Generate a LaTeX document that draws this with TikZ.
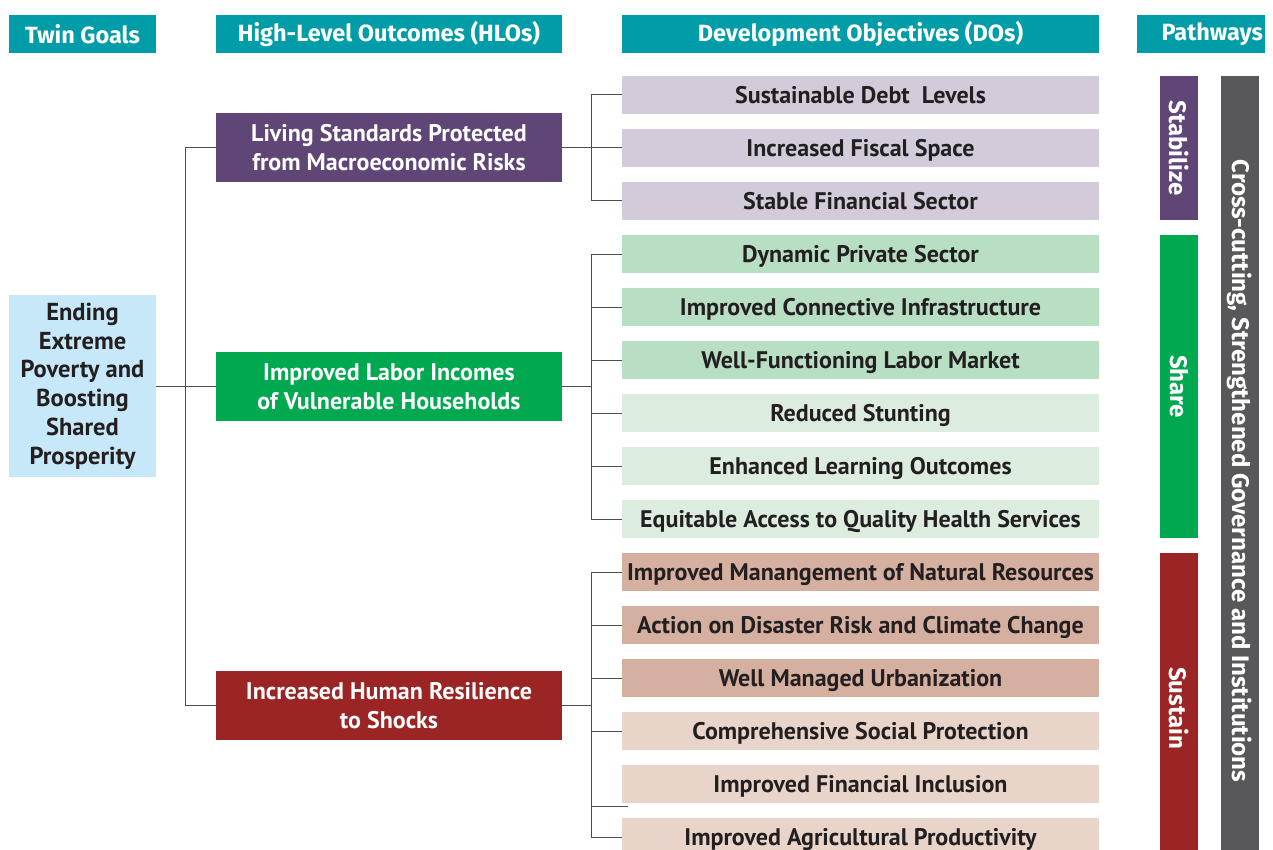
\documentclass[tikz,border=0pt]{standalone}
\usepackage{fontspec}
\setmainfont{PT Sans}
\newfontfamily\headfont{Fira Sans}
\usepackage{xcolor}

\definecolor{headteal}{HTML}{009DA8}
\definecolor{hlopurple}{HTML}{5F4676}
\definecolor{dolav}{HTML}{D3CBDA}
\definecolor{hlogreen}{HTML}{00A94F}
\definecolor{dogreen}{HTML}{B8DFC4}
\definecolor{dopale}{HTML}{DCEDE0}
\definecolor{hlored}{HTML}{9B2424}
\definecolor{dotan}{HTML}{D5AFA0}
\definecolor{dosand}{HTML}{E9D4C9}
\definecolor{crossgray}{HTML}{58585A}
\definecolor{goalblue}{HTML}{C7E8F8}
\definecolor{inkdark}{HTML}{231F20}
\definecolor{linkgray}{HTML}{4D4D4D}

\tikzset{
  headbox/.style={fill=headteal, text=white, inner sep=0pt, minimum height=38pt,
    font=\headfont\fontsize{23.5}{28}\selectfont\bfseries},
  hlobox/.style={text=white, inner sep=0pt, minimum width=346pt, minimum height=69pt,
    align=center, font=\fontsize{24}{29}\selectfont\bfseries},
  dobox/.style={text=inkdark, inner sep=0pt, minimum width=477pt, minimum height=38pt,
    text height=17pt, text depth=0pt, font=\fontsize{24}{28}\selectfont\bfseries},
  pathbar/.style={text=white, inner sep=0pt, minimum height=38pt, rotate=-90,
    font=\headfont\fontsize{24}{28}\selectfont\bfseries},
  link/.style={draw=linkgray, line width=1pt}
}

\begin{document}
\begin{tikzpicture}[x=1pt, y=-1pt]
\useasboundingbox (0,0) rectangle (1273,850);

% column heads
\node[headbox, minimum width=147pt] (hgoal) at (82.5,34) {Twin Goals};
\node[headbox, minimum width=346pt] (hhlo) at (389,34) {High-Level Outcomes (HLOs)};
\node[headbox, minimum width=477pt] (hdo) at (860.5,34) {Development Objectives (DOs)};
\node[headbox, minimum width=128pt, text width=124pt, align=right] (hpath) at (1201,34) {Pathways};

% twin goals
\node[fill=goalblue, text=inkdark, inner sep=0pt, minimum width=147pt, minimum height=182pt,
  align=center, font=\fontsize{24.5}{28.8}\selectfont\bfseries] (goal) at (82.5,386)
  {Ending\\Extreme\\Poverty and\\Boosting\\Shared\\Prosperity};

% high-level outcomes
\node[hlobox, fill=hlopurple] (hlo1) at (389,147.5) {Living Standards Protected\\from Macroeconomic Risks};
\node[hlobox, fill=hlogreen] (hlo2) at (389,386.5) {Improved Labor Incomes\\of Vulnerable Households};
\node[hlobox, fill=hlored] (hlo3) at (389,705.5) {Increased Human Resilience\\to Shocks};

% development objectives
\foreach \t/\c [count=\i] in {
  Sustainable Debt\ \ Levels/dolav,
  Increased Fiscal Space/dolav,
  Stable Financial Sector/dolav,
  Dynamic Private Sector/dogreen,
  Improved Connective Infrastructure/dogreen,
  Well-Functioning Labor Market/dogreen,
  Reduced Stunting/dopale,
  Enhanced Learning Outcomes/dopale,
  Equitable Access to Quality Health Services/dopale,
  Improved Manangement of Natural Resources/dotan,
  Action on Disaster Risk and Climate Change/dotan,
  Well Managed Urbanization/dotan,
  Comprehensive Social Protection/dosand,
  Improved Financial Inclusion/dosand,
  Improved Agricultural Productivity/dosand}
  \node[dobox, fill=\c] (do\i) at (860.5,{95+53*(\i-1)}) {\t};

% pathways
\node[pathbar, fill=hlopurple, minimum width=144pt] (stab) at (1179,148) {Stabilize};
\node[pathbar, fill=hlogreen, minimum width=303pt] (share) at (1179,386.5) {Share};
\node[pathbar, fill=hlored, minimum width=310pt] (sustain) at (1179,708) {Sustain};
\node[pathbar, fill=crossgray, minimum width=790pt] (cross) at (1240,471)
  {Cross-cutting, Strengthened Governance and Institutions};

% goal to outcomes
\draw[link] (goal.east) -- ++(30,0);
\draw[link] (hlo1.west) -- ++(-30,0) |- (hlo3.west);
\draw[link] (hlo2.west) -- ++(-30,0);

% outcomes to objectives
\draw[link] (hlo1.east) -- ++(30,0);
\draw[link] (do1.west) -- ++(-30,0) |- (do3.west);
\draw[link] (do2.west) -- ++(-30,0);

\draw[link] (hlo2.east) -- ++(30,0);
\draw[link] (do4.west) -- ++(-30,0) |- (do9.west);
\foreach \i in {5,...,8}
  \draw[link] (do\i.west) -- ++(-30,0);

\draw[link] (hlo3.east) -- ++(30,0);
\draw[link] (do10.west) -- ++(-30,0) |- (do15.west);
\foreach \i in {11,...,13}
  \draw[link] (do\i.west) -- ++(-30,0);
\draw[link] ([shift={(6,3.5)}]do14.south west) -- ++(-36,0);
\end{tikzpicture}
\end{document}
